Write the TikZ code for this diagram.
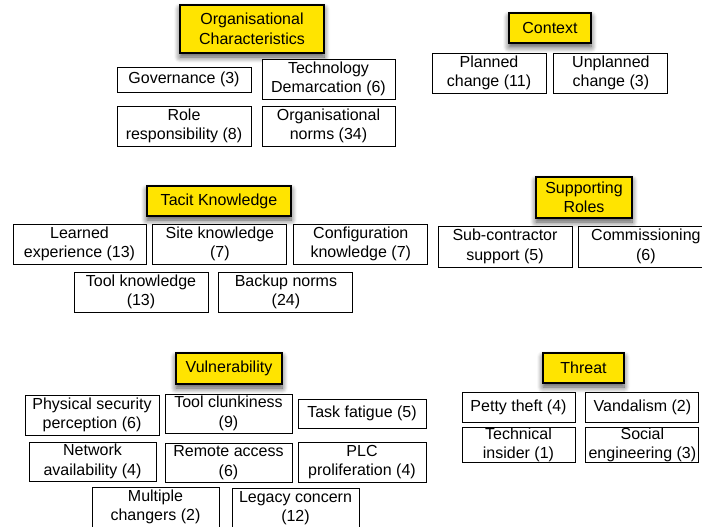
\documentclass[tikz,border=0pt]{standalone}
\usepackage{fontspec}
\setmainfont{Liberation Sans}
\usetikzlibrary{positioning,shadows.blur}
\definecolor{catyellow}{RGB}{255,228,0}

\begin{document}
\begin{tikzpicture}[
    x = 1pt, y = -1pt, % pixel grid, y runs down
    font = \fontsize{16}{19.5}\selectfont,
    node distance = 7pt % gap between boxes
    ]

    \tikzset{
    theme/.style = {draw = black, line width = 1.2pt, fill = catyellow, align = center, inner sep = 0pt,
        blur shadow = {shadow xshift = 0pt, shadow yshift = -4pt, shadow blur steps = 8, shadow blur radius = 6pt, shadow opacity = 70}},
    code/.style = {draw = black, line width = 0.9pt, fill = white, align = center, inner sep = 0pt,
        minimum width = 134pt, minimum height = 40pt}
    }

    \useasboundingbox (0,0) rectangle (702,527);

    % Organisational Characteristics
    \node[theme, minimum width = 144pt, minimum height = 48pt] (orgc) at (252,29) {Organisational\\Characteristics};
    \node[code, minimum height = 25pt] (gov) at (184,79.5) {Governance (3)};
    \node[code, minimum width = 133pt] (tech) at (328.5,79) {Technology\\Demarcation (6)};
    \node[code] (role) at (184,126) {Role\\responsibility (8)};
    \node[code, minimum width = 133pt] (norms) at (328.5,126) {Organisational\\norms (34)};

    % Context
    \node[theme, minimum width = 82pt, minimum height = 30pt] (ctx) at (550,28) {Context};
    \node[code, minimum width = 114pt] (plan) at (489,73) {Planned\\change (11)};
    \node[code, minimum width = 114pt] (unplan) [right = of plan] {Unplanned\\change (3)};

    % Tacit Knowledge
    \node[theme, minimum width = 144pt, minimum height = 30pt] (tacit) at (219,201) {Tacit Knowledge};
    \node[code, minimum width = 133pt] (learn) at (79.5,244) {Learned\\experience (13)};
    \node[code] (site) [right = 6pt of learn] {Site knowledge\\(7)};
    \node[code] (config) [right = 6pt of site] {Configuration\\knowledge (7)};
    \node[code] (toolk) at (141,292) {Tool knowledge\\(13)};
    \node[code] (backup) [right = 10pt of toolk] {Backup norms\\(24)};

    % Supporting Roles
    \node[theme, minimum width = 96pt, minimum height = 41pt] (support) at (584,197.5) {Supporting\\Roles};
    \node[code, minimum height = 41pt] (subcon) at (505,246.5) {Sub-contractor\\support (5)};
    \node[code, minimum height = 41pt] (commis) [right = 6pt of subcon] {Commissioning\\(6)};

    % Vulnerability
    \node[theme, minimum width = 106pt, minimum height = 31pt] (vuln) at (229,368.5) {Vulnerability};
    \node[code] (phys) at (92,415) {Physical security\\perception (6)};
    \node[code, minimum width = 127pt, minimum height = 39pt] (clunk) at (228.5,413.5) {Tool clunkiness\\(9)};
    \node[code, minimum width = 128pt, minimum height = 29pt] (fatigue) at (362,413.5) {Task fatigue (5)};
    \node[code, minimum width = 127pt, minimum height = 39pt] (network) at (92.5,461.5) {Network\\availability (4)};
    \node[code, minimum width = 127pt, minimum height = 39pt] (remote) at (228.5,462.5) {Remote access\\(6)};
    \node[code, minimum width = 128pt] (plc) at (362,462) {PLC\\proliferation (4)};
    \node[code, minimum width = 127pt] (multi) at (155.5,507) {Multiple\\changers (2)};
    \node[code, minimum width = 127pt] (legacy) at (295.5,508) {Legacy concern\\(12)};

    % Threat
    \node[theme, minimum width = 81pt, minimum height = 30pt] (threat) at (583.5,368) {Threat};
    \node[code, minimum width = 113pt, minimum height = 30pt] (petty) at (518.5,407) {Petty theft (4)};
    \node[code, minimum width = 113pt, minimum height = 30pt] (vandal) [right = 10pt of petty] {Vandalism (2)};
    \node[code, minimum width = 113pt, minimum height = 32pt] (insider) at (518.5,445) {Technical\\insider (1)};
    \node[code, minimum width = 113pt, minimum height = 32pt] (social) [right = 10pt of insider] {Social\\engineering (3)};
\end{tikzpicture}
\end{document}
